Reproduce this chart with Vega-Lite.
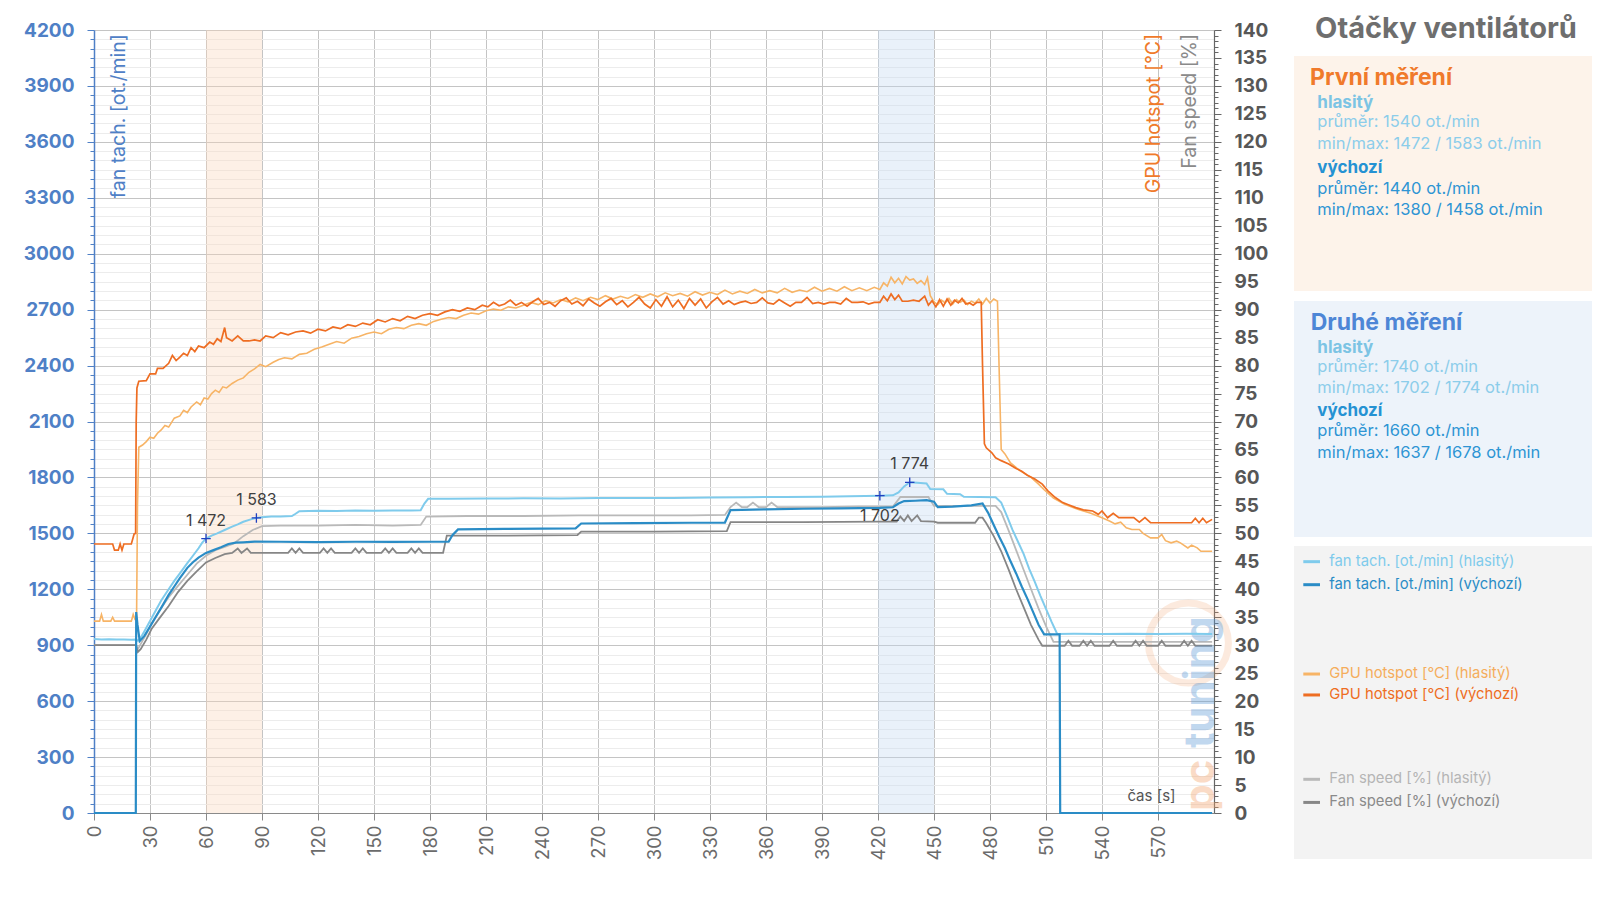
{
  "$schema": "https://vega.github.io/schema/vega-lite/v6.json",
  "background": "#ffffff",
  "padding": {"left": 23, "top": 14, "right": 0, "bottom": 0},
  "bounds": "flush",
  "spacing": 80,
  "config": {"view": {"stroke": null}, "font": "Inter"},
  "datasets": {
    "bands": [{"t": 60, "t2": 90, "band": "first"}, {"t": 420, "t2": 450, "band": "second"}],
    "peaks": [
      {"t": 60, "v": 1472, "label": "1 472", "pos": "above"},
      {"t": 87, "v": 1583, "label": "1 583", "pos": "above"},
      {"t": 437, "v": 1774, "label": "1 774", "pos": "above"},
      {"t": 421, "v": 1702, "label": "1 702", "pos": "below"}
    ],
    "th": [
      {"t":0,"v":933},{"t":4,"v":930},{"t":8,"v":932},{"t":12,"v":930},{"t":16,"v":931},{"t":20,"v":929},{"t":22.5,"v":930},{"t":23.5,"v":924},{"t":25,"v":940},{"t":27,"v":975},{"t":30,"v":1030},{"t":33,"v":1085},{"t":36,"v":1140},{"t":40,"v":1200},{"t":43,"v":1245},{"t":46,"v":1285},{"t":50,"v":1340},{"t":53,"v":1380},{"t":56,"v":1420},{"t":58,"v":1450},{"t":60,"v":1472},{"t":63,"v":1488},{"t":66,"v":1500},{"t":70,"v":1518},{"t":74,"v":1536},{"t":77,"v":1548},{"t":80,"v":1562},{"t":84,"v":1575},{"t":87,"v":1583},{"t":90,"v":1587},{"t":95,"v":1590},{"t":100,"v":1591},{"t":106,"v":1593},{"t":108,"v":1605},{"t":110,"v":1619},{"t":120,"v":1621},{"t":130,"v":1620},{"t":140,"v":1622},{"t":150,"v":1621},{"t":160,"v":1623},{"t":170,"v":1622},{"t":175,"v":1624},{"t":177,"v":1660},{"t":179,"v":1685},{"t":190,"v":1686},{"t":210,"v":1687},{"t":230,"v":1688},{"t":250,"v":1687},{"t":270,"v":1689},{"t":290,"v":1690},{"t":310,"v":1690},{"t":330,"v":1692},{"t":350,"v":1694},{"t":370,"v":1695},{"t":390,"v":1696},{"t":405,"v":1699},{"t":421,"v":1702},{"t":428,"v":1704},{"t":431,"v":1720},{"t":434,"v":1752},{"t":437,"v":1774},{"t":441,"v":1771},{"t":446,"v":1768},{"t":448,"v":1738},{"t":455,"v":1736},{"t":457,"v":1712},{"t":464,"v":1710},{"t":466,"v":1696},{"t":483,"v":1694},{"t":486,"v":1665},{"t":489,"v":1595},{"t":492,"v":1520},{"t":495,"v":1455},{"t":498,"v":1390},{"t":501,"v":1310},{"t":504,"v":1240},{"t":507,"v":1165},{"t":510,"v":1095},{"t":513,"v":1025},{"t":516,"v":960},{"t":525,"v":961},{"t":540,"v":960},{"t":555,"v":962},{"t":570,"v":960},{"t":585,"v":961},{"t":599,"v":960}
    ],
    "tv": [
      {"t":0,"v":0},{"t":22.4,"v":0},{"t":22.6,"v":1078},{"t":23.3,"v":1010},{"t":24.5,"v":922},{"t":27,"v":950},{"t":30,"v":1000},{"t":33,"v":1050},{"t":36,"v":1100},{"t":40,"v":1170},{"t":43,"v":1215},{"t":46,"v":1260},{"t":50,"v":1315},{"t":53,"v":1345},{"t":56,"v":1370},{"t":60,"v":1395},{"t":64,"v":1410},{"t":68,"v":1425},{"t":72,"v":1443},{"t":76,"v":1450},{"t":80,"v":1452},{"t":86,"v":1456},{"t":100,"v":1455},{"t":120,"v":1453},{"t":140,"v":1455},{"t":160,"v":1454},{"t":180,"v":1455},{"t":190,"v":1456},{"t":192,"v":1490},{"t":195,"v":1521},{"t":220,"v":1524},{"t":240,"v":1525},{"t":258,"v":1527},{"t":261,"v":1553},{"t":290,"v":1555},{"t":320,"v":1557},{"t":338,"v":1558},{"t":341,"v":1625},{"t":360,"v":1629},{"t":380,"v":1632},{"t":400,"v":1634},{"t":421,"v":1637},{"t":428,"v":1640},{"t":431,"v":1660},{"t":434,"v":1673},{"t":440,"v":1675},{"t":446,"v":1678},{"t":450,"v":1670},{"t":452,"v":1641},{"t":460,"v":1643},{"t":470,"v":1650},{"t":476,"v":1660},{"t":479,"v":1610},{"t":482,"v":1545},{"t":485,"v":1480},{"t":488,"v":1420},{"t":491,"v":1350},{"t":494,"v":1285},{"t":497,"v":1215},{"t":500,"v":1150},{"t":503,"v":1080},{"t":506,"v":1010},{"t":509,"v":958},{"t":517.3,"v":958},{"t":517.6,"v":0},{"t":599,"v":0}
    ],
    "fh": [
      {"t":0,"v":30},{"t":10,"v":30},{"t":22.5,"v":30},{"t":23.5,"v":29.3},{"t":25,"v":30.2},{"t":28,"v":32},{"t":31,"v":34},{"t":35,"v":36.2},{"t":40,"v":38.6},{"t":45,"v":40.6},{"t":50,"v":42.6},{"t":55,"v":44.6},{"t":60,"v":46},{"t":65,"v":47},{"t":70,"v":47.6},{"t":75,"v":48.2},{"t":80,"v":49.5},{"t":85,"v":50.6},{"t":90,"v":51.3},{"t":100,"v":51.4},{"t":120,"v":51.4},{"t":140,"v":51.5},{"t":160,"v":51.4},{"t":175,"v":51.5},{"t":178,"v":53},{"t":200,"v":53.1},{"t":230,"v":53.1},{"t":260,"v":53.2},{"t":290,"v":53.2},{"t":320,"v":53.2},{"t":338,"v":53.3},{"t":341,"v":54.7},{"t":344,"v":55.5},{"t":347,"v":54.7},{"t":350,"v":54.7},{"t":353,"v":55.5},{"t":356,"v":54.7},{"t":360,"v":54.7},{"t":363,"v":55.5},{"t":366,"v":54.7},{"t":390,"v":54.7},{"t":410,"v":54.8},{"t":428,"v":54.8},{"t":432,"v":56.5},{"t":447,"v":56.5},{"t":450,"v":54.9},{"t":483,"v":54.9},{"t":486,"v":53.8},{"t":490,"v":50.5},{"t":494,"v":47},{"t":498,"v":43.5},{"t":502,"v":40},{"t":506,"v":36.6},{"t":510,"v":33.4},{"t":514,"v":30.6},{"t":530,"v":30.6},{"t":545,"v":30.6},{"t":560,"v":30.6},{"t":575,"v":30.6},{"t":599,"v":30.6}
    ],
    "fv": [
      {"t":0,"v":30},{"t":10,"v":30},{"t":22.5,"v":30},{"t":23.5,"v":28.8},{"t":25,"v":29.3},{"t":28,"v":31},{"t":31,"v":33},{"t":35,"v":34.8},{"t":40,"v":37},{"t":45,"v":39.5},{"t":50,"v":41.5},{"t":55,"v":43.2},{"t":60,"v":44.8},{"t":65,"v":45.6},{"t":70,"v":46.3},{"t":74,"v":46.5},{"t":77,"v":47.3},{"t":79,"v":46.5},{"t":82,"v":47.3},{"t":84,"v":46.5},{"t":90,"v":46.5},{"t":104,"v":46.5},{"t":106,"v":47.3},{"t":108,"v":46.5},{"t":110,"v":47.3},{"t":112,"v":46.5},{"t":121,"v":46.5},{"t":123,"v":47.3},{"t":125,"v":46.5},{"t":127,"v":47.3},{"t":129,"v":46.5},{"t":138,"v":46.5},{"t":140,"v":47.3},{"t":142,"v":46.5},{"t":144,"v":47.3},{"t":146,"v":46.5},{"t":154,"v":46.5},{"t":156,"v":47.3},{"t":158,"v":46.5},{"t":160,"v":47.3},{"t":162,"v":46.5},{"t":168,"v":46.5},{"t":170,"v":47.3},{"t":172,"v":46.5},{"t":174,"v":47.3},{"t":176,"v":46.5},{"t":187,"v":46.5},{"t":189,"v":49.6},{"t":220,"v":49.6},{"t":259,"v":49.7},{"t":261,"v":50.3},{"t":300,"v":50.3},{"t":339,"v":50.4},{"t":341,"v":52},{"t":380,"v":52},{"t":420,"v":52.1},{"t":430,"v":52.1},{"t":432,"v":53},{"t":434,"v":52.2},{"t":436,"v":53.2},{"t":438,"v":52.2},{"t":441,"v":53.2},{"t":443,"v":52.2},{"t":450,"v":52.1},{"t":452,"v":51.9},{"t":472,"v":51.9},{"t":474,"v":52.8},{"t":476,"v":52.8},{"t":478,"v":51.8},{"t":482,"v":49.5},{"t":486,"v":46.8},{"t":490,"v":43.5},{"t":494,"v":40},{"t":498,"v":36.8},{"t":502,"v":33.6},{"t":506,"v":31},{"t":508,"v":29.9},{"t":520,"v":29.9},{"t":522,"v":30.8},{"t":524,"v":29.9},{"t":528,"v":29.9},{"t":530,"v":30.8},{"t":532,"v":29.9},{"t":534,"v":30.8},{"t":536,"v":29.9},{"t":544,"v":29.9},{"t":546,"v":30.8},{"t":548,"v":29.9},{"t":556,"v":29.9},{"t":558,"v":30.8},{"t":560,"v":29.9},{"t":562,"v":30.8},{"t":564,"v":29.9},{"t":570,"v":29.9},{"t":572,"v":30.8},{"t":574,"v":29.9},{"t":582,"v":29.9},{"t":584,"v":30.8},{"t":586,"v":29.9},{"t":588,"v":30.8},{"t":590,"v":29.9},{"t":599,"v":29.9}
    ],
    "gv": [
      {"t":0,"v":48.1},{"t":5,"v":48.1},{"t":10,"v":48.1},{"t":11,"v":47},{"t":13,"v":47},{"t":14,"v":48.1},{"t":15,"v":47},{"t":16,"v":48.1},{"t":20,"v":48.1},{"t":21.5,"v":49.9},{"t":22.3,"v":50},{"t":22.6,"v":70},{"t":23,"v":76},{"t":24,"v":77.2},{"t":28,"v":77.3},{"t":30,"v":78.5},{"t":33,"v":78.5},{"t":34,"v":79.5},{"t":37,"v":79.5},{"t":40,"v":80.4},{"t":42,"v":81.8},{"t":44,"v":80.9},{"t":46,"v":81.5},{"t":48,"v":82.2},{"t":50,"v":81.8},{"t":52,"v":83.2},{"t":54,"v":82.5},{"t":56,"v":83.5},{"t":59,"v":83.2},{"t":62,"v":84.2},{"t":64,"v":83.8},{"t":66,"v":84.8},{"t":68,"v":84.3},{"t":70,"v":86.8},{"t":71,"v":85},{"t":74,"v":84.4},{"t":77,"v":85.3},{"t":80,"v":84.4},{"t":83,"v":84.4},{"t":86,"v":84.6},{"t":89,"v":84.4},{"t":92,"v":85.3},{"t":96,"v":85.0},{"t":100,"v":85.9},{"t":104,"v":85.5},{"t":108,"v":86.0},{"t":112,"v":86.2},{"t":116,"v":85.8},{"t":120,"v":86.5},{"t":124,"v":86.2},{"t":128,"v":86.9},{"t":132,"v":86.6},{"t":136,"v":87.3},{"t":140,"v":87.0},{"t":144,"v":87.6},{"t":148,"v":87.3},{"t":152,"v":88.2},{"t":156,"v":87.8},{"t":160,"v":88.4},{"t":164,"v":88.0},{"t":168,"v":88.8},{"t":172,"v":88.4},{"t":176,"v":89.0},{"t":180,"v":89.3},{"t":184,"v":89.0},{"t":188,"v":89.6},{"t":192,"v":90.0},{"t":196,"v":89.7},{"t":200,"v":90.3},{"t":204,"v":90.0},{"t":208,"v":90.8},{"t":211,"v":90.5},{"t":214,"v":91.3},{"t":217,"v":90.7},{"t":220,"v":91.0},{"t":223,"v":91.7},{"t":226,"v":90.8},{"t":229,"v":91.3},{"t":232,"v":90.6},{"t":235,"v":91.4},{"t":238,"v":92.0},{"t":241,"v":90.9},{"t":244,"v":91.3},{"t":247,"v":90.6},{"t":250,"v":91.6},{"t":253,"v":92.1},{"t":256,"v":91.0},{"t":259,"v":91.5},{"t":262,"v":90.7},{"t":265,"v":91.9},{"t":268,"v":91.2},{"t":271,"v":90.6},{"t":274,"v":91.4},{"t":277,"v":92.0},{"t":280,"v":90.9},{"t":283,"v":91.6},{"t":286,"v":90.5},{"t":289,"v":91.3},{"t":292,"v":92.2},{"t":295,"v":91.0},{"t":298,"v":90.3},{"t":301,"v":91.8},{"t":304,"v":90.6},{"t":307,"v":92.3},{"t":310,"v":90.5},{"t":313,"v":91.7},{"t":316,"v":90.2},{"t":319,"v":92.0},{"t":322,"v":90.8},{"t":325,"v":91.9},{"t":328,"v":90.3},{"t":331,"v":91.4},{"t":334,"v":92.2},{"t":337,"v":91.0},{"t":340,"v":91.6},{"t":343,"v":90.9},{"t":346,"v":91.3},{"t":349,"v":91.5},{"t":352,"v":91.1},{"t":355,"v":91.3},{"t":358,"v":92.1},{"t":361,"v":91.2},{"t":364,"v":91.0},{"t":367,"v":91.8},{"t":370,"v":91.2},{"t":373,"v":90.6},{"t":376,"v":91.3},{"t":379,"v":91.3},{"t":382,"v":92.2},{"t":385,"v":91.1},{"t":388,"v":91.3},{"t":391,"v":91.0},{"t":394,"v":91.3},{"t":397,"v":91.3},{"t":400,"v":91.0},{"t":403,"v":92.0},{"t":406,"v":91.3},{"t":409,"v":91.3},{"t":412,"v":91.4},{"t":415,"v":91.0},{"t":418,"v":91.3},{"t":421,"v":91.3},{"t":423,"v":92.4},{"t":425,"v":91.6},{"t":427,"v":92.8},{"t":429,"v":91.8},{"t":431,"v":92.6},{"t":433,"v":91.5},{"t":436,"v":91.5},{"t":439,"v":91.7},{"t":442,"v":91.5},{"t":445,"v":92.4},{"t":447,"v":90.8},{"t":449,"v":91.6},{"t":451,"v":90.5},{"t":453,"v":91.8},{"t":455,"v":90.6},{"t":457,"v":91.9},{"t":459,"v":90.8},{"t":461,"v":91.7},{"t":463,"v":91.2},{"t":465,"v":92.0},{"t":467,"v":91.0},{"t":469,"v":91.2},{"t":471,"v":90.8},{"t":473,"v":91.3},{"t":475.3,"v":91.3},{"t":476,"v":80},{"t":477,"v":66},{"t":478,"v":65.3},{"t":481,"v":64.4},{"t":483,"v":63.5},{"t":486,"v":63.0},{"t":490,"v":62.4},{"t":494,"v":61.6},{"t":497,"v":61.1},{"t":500,"v":60.4},{"t":504,"v":59.7},{"t":508,"v":58.8},{"t":511,"v":57.6},{"t":515,"v":56.4},{"t":519,"v":55.5},{"t":522,"v":55.1},{"t":526,"v":54.6},{"t":530,"v":54.2},{"t":535,"v":54.0},{"t":538,"v":53.4},{"t":540,"v":54.0},{"t":543,"v":52.8},{"t":546,"v":53.6},{"t":549,"v":52.8},{"t":557,"v":52.8},{"t":560,"v":52.0},{"t":563,"v":52.8},{"t":566,"v":51.9},{"t":580,"v":51.9},{"t":588,"v":51.9},{"t":590,"v":52.7},{"t":592,"v":51.9},{"t":594,"v":52.7},{"t":596,"v":51.9},{"t":599,"v":52.5}
    ],
    "gh": [
      {"t":0,"v":34.3},{"t":3,"v":34.3},{"t":4,"v":35.5},{"t":5,"v":34.3},{"t":9,"v":34.3},{"t":10,"v":35.0},{"t":11,"v":34.3},{"t":20,"v":34.3},{"t":21,"v":35.5},{"t":22,"v":34.6},{"t":22.8,"v":34.6},{"t":23.3,"v":55},{"t":24,"v":65.4},{"t":26,"v":65.8},{"t":28,"v":66.4},{"t":30,"v":67.2},{"t":32,"v":67.0},{"t":34,"v":67.9},{"t":36,"v":68.5},{"t":38,"v":69.3},{"t":40,"v":69.0},{"t":43,"v":70.6},{"t":46,"v":71.0},{"t":48,"v":72.0},{"t":50,"v":71.6},{"t":52,"v":72.6},{"t":55,"v":73.5},{"t":57,"v":73.0},{"t":59,"v":74.2},{"t":61,"v":74.0},{"t":63,"v":75.0},{"t":65,"v":75.6},{"t":67,"v":75.2},{"t":69,"v":76.2},{"t":71,"v":76.0},{"t":74,"v":76.8},{"t":77,"v":77.4},{"t":80,"v":77.8},{"t":83,"v":78.8},{"t":86,"v":79.4},{"t":89,"v":80.2},{"t":92,"v":79.8},{"t":96,"v":80.6},{"t":99,"v":81.1},{"t":102,"v":81.4},{"t":106,"v":81.2},{"t":110,"v":82.0},{"t":114,"v":82.2},{"t":118,"v":82.9},{"t":122,"v":83.3},{"t":126,"v":83.8},{"t":130,"v":84.3},{"t":134,"v":84.0},{"t":138,"v":84.9},{"t":142,"v":85.2},{"t":146,"v":85.7},{"t":150,"v":86.0},{"t":154,"v":85.7},{"t":158,"v":86.5},{"t":162,"v":86.8},{"t":166,"v":86.6},{"t":170,"v":87.2},{"t":174,"v":87.5},{"t":178,"v":87.2},{"t":182,"v":87.9},{"t":186,"v":88.3},{"t":190,"v":88.6},{"t":194,"v":88.4},{"t":198,"v":89.0},{"t":202,"v":89.4},{"t":206,"v":89.2},{"t":210,"v":89.8},{"t":214,"v":90.1},{"t":218,"v":89.9},{"t":222,"v":90.5},{"t":226,"v":90.3},{"t":230,"v":90.8},{"t":234,"v":91.3},{"t":238,"v":90.9},{"t":242,"v":91.6},{"t":246,"v":91.2},{"t":250,"v":91.8},{"t":254,"v":91.4},{"t":258,"v":92.1},{"t":262,"v":91.6},{"t":266,"v":92.2},{"t":270,"v":91.8},{"t":274,"v":92.5},{"t":278,"v":91.9},{"t":282,"v":92.4},{"t":286,"v":92.0},{"t":290,"v":92.7},{"t":294,"v":92.2},{"t":298,"v":92.8},{"t":302,"v":92.3},{"t":306,"v":93.0},{"t":310,"v":92.5},{"t":314,"v":92.9},{"t":318,"v":92.4},{"t":322,"v":93.2},{"t":326,"v":92.6},{"t":330,"v":93.1},{"t":334,"v":92.7},{"t":338,"v":93.5},{"t":342,"v":92.8},{"t":346,"v":93.3},{"t":350,"v":92.9},{"t":354,"v":93.6},{"t":358,"v":93.0},{"t":362,"v":93.4},{"t":366,"v":93.0},{"t":370,"v":93.8},{"t":374,"v":93.1},{"t":378,"v":93.5},{"t":382,"v":93.2},{"t":386,"v":94.0},{"t":390,"v":93.3},{"t":394,"v":93.8},{"t":398,"v":93.3},{"t":402,"v":94.1},{"t":406,"v":93.4},{"t":410,"v":93.9},{"t":414,"v":93.4},{"t":418,"v":94.0},{"t":421,"v":93.6},{"t":423,"v":94.8},{"t":425,"v":94.2},{"t":427,"v":95.8},{"t":429,"v":94.8},{"t":431,"v":95.6},{"t":433,"v":94.6},{"t":435,"v":95.9},{"t":437,"v":95.3},{"t":439,"v":95.5},{"t":441,"v":94.7},{"t":443,"v":95.2},{"t":445,"v":94.5},{"t":446.5,"v":95.7},{"t":448,"v":92.5},{"t":450,"v":91.4},{"t":452,"v":90.9},{"t":454,"v":91.7},{"t":456,"v":91.2},{"t":458,"v":92.0},{"t":460,"v":91.0},{"t":462,"v":91.8},{"t":464,"v":91.3},{"t":466,"v":91.7},{"t":468,"v":90.9},{"t":470,"v":91.5},{"t":472,"v":91.2},{"t":474,"v":91.9},{"t":476,"v":91.0},{"t":478,"v":92.0},{"t":480,"v":91.2},{"t":482,"v":91.9},{"t":484,"v":91.5},{"t":485,"v":78},{"t":486,"v":65},{"t":488,"v":64.2},{"t":491,"v":62.6},{"t":496,"v":61.2},{"t":502,"v":60.0},{"t":506,"v":58.8},{"t":509,"v":57.8},{"t":514,"v":56.3},{"t":520,"v":55.2},{"t":527,"v":54.3},{"t":534,"v":53.6},{"t":540,"v":52.8},{"t":544,"v":52.2},{"t":547,"v":51.7},{"t":550,"v":52.0},{"t":553,"v":51.0},{"t":556,"v":50.7},{"t":560,"v":50.7},{"t":562,"v":50.0},{"t":566,"v":49.2},{"t":570,"v":49.2},{"t":572,"v":49.8},{"t":574,"v":48.7},{"t":577,"v":48.3},{"t":580,"v":48.6},{"t":582,"v":48.3},{"t":586,"v":47.4},{"t":588,"v":47.9},{"t":591,"v":47.4},{"t":593,"v":46.8},{"t":599,"v":46.8}
    ]
  },
  "hconcat": [
    {
      "width": 1120,
      "height": 783,
      "layer": [
        {
          "data": {"name": "bands"},
          "mark": {"type": "rect", "opacity": 0.36},
          "encoding": {
            "x": {
              "field": "t", "type": "quantitative",
              "scale": {"domain": [0, 600], "nice": false, "zero": false},
              "axis": {
                "values": [0,15,30,45,60,75,90,105,120,135,150,165,180,195,210,225,240,255,270,285,300,315,330,345,360,375,390,405,420,435,450,465,480,495,510,525,540,555,570,585],
                "format": "d",
                "labelExpr": "datum.value % 30 === 0 ? datum.label : ''",
                "labelAngle": 270, "labelFont": "Inter", "labelFontSize": 18.5, "labelColor": "#6b6b6b",
                "labelPadding": 5, "labelOverlap": false, "labelBound": false, "labelFlush": false,
                "tickSize": {"condition": {"test": "datum.value % 30 === 0", "value": 7}, "value": 4},
                "tickColor": "#8a8a8a", "domainColor": "#8a8a8a", "domainWidth": 1.2,
                "grid": true, "gridColor": "#c4c4c4",
                "gridOpacity": {"condition": {"test": "datum.value % 30 === 0", "value": 1}, "value": 0},
                "title": null
              }
            },
            "x2": {"field": "t2"},
            "color": {"field": "band", "type": "nominal", "scale": {"domain": ["first", "second"], "range": ["#f9d6bb", "#c2d9f1"]}, "legend": null}
          }
        },
        {
          "layer": [
            {
              "data": {"values": [{}]},
              "mark": {"type": "point", "shape": "circle", "filled": false, "size": 6400, "stroke": "#f4a36b", "strokeWidth": 7, "opacity": 0.22},
              "encoding": {"x": {"datum": 586.3, "type": "quantitative"}, "y": {"datum": 30.4, "type": "quantitative"}}
            },
            {
              "data": {"name": "fh"},
              "mark": {"type": "line", "color": "#b9b9b9", "strokeWidth": 1.8},
              "encoding": {
                "x": {"field": "t", "type": "quantitative"},
                "y": {
                  "field": "v", "type": "quantitative",
                  "scale": {"domain": [0, 140], "nice": false, "zero": false},
                  "axis": {
                    "orient": "right", "tickCount": 140, "format": "d",
                    "labelExpr": "datum.value % 5 === 0 ? datum.label : ''",
                    "labelFont": "Inter", "labelFontSize": 19, "labelFontWeight": "bold", "labelColor": "#575757",
                    "labelPadding": 13, "labelOverlap": false, "labelBound": false, "labelFlush": false,
                    "tickSize": {"condition": {"test": "datum.value % 5 === 0", "value": 7}, "value": 4},
                    "tickColor": "#666666", "domainColor": "#666666", "domainWidth": 1.2,
                    "grid": false, "title": null
                  }
                }
              }
            },
            {"data": {"name": "fv"}, "mark": {"type": "line", "color": "#868686", "strokeWidth": 1.8}, "encoding": {"x": {"field": "t", "type": "quantitative"}, "y": {"field": "v", "type": "quantitative"}}},
            {"data": {"name": "gh"}, "mark": {"type": "line", "color": "#f7b466", "strokeWidth": 1.6}, "encoding": {"x": {"field": "t", "type": "quantitative"}, "y": {"field": "v", "type": "quantitative"}}},
            {"data": {"name": "gv"}, "mark": {"type": "line", "color": "#ee6d22", "strokeWidth": 1.7}, "encoding": {"x": {"field": "t", "type": "quantitative"}, "y": {"field": "v", "type": "quantitative"}}},
            {
              "data": {"values": [{}]},
              "mark": {"type": "text", "angle": 270, "align": "right", "baseline": "middle", "font": "Inter", "fontSize": 19.5, "color": "#f07a2a"},
              "encoding": {"x": {"datum": 568.1, "type": "quantitative"}, "y": {"datum": 139.3, "type": "quantitative"}, "text": {"value": "GPU hotspot [°C]"}}
            },
            {
              "data": {"values": [{}]},
              "mark": {"type": "text", "angle": 270, "align": "right", "baseline": "middle", "font": "Inter", "fontSize": 19.5, "color": "#8a8a8a"},
              "encoding": {"x": {"datum": 587.0, "type": "quantitative"}, "y": {"datum": 139.3, "type": "quantitative"}, "text": {"value": "Fan speed [%]"}}
            },
            {
              "data": {"values": [{}]},
              "mark": {"type": "text", "align": "center", "baseline": "middle", "font": "Inter", "fontSize": 15, "color": "#555555"},
              "encoding": {"x": {"datum": 566.5, "type": "quantitative"}, "y": {"datum": 3.0, "type": "quantitative"}, "text": {"value": "čas [s]"}}
            },
            {
              "data": {"values": [{}]},
              "mark": {"type": "text", "angle": 270, "align": "left", "baseline": "middle", "font": "Inter", "fontSize": 42, "fontWeight": "bold", "color": "#f4a36b", "opacity": 0.38},
              "encoding": {"x": {"datum": 593.2, "type": "quantitative"}, "y": {"datum": 0.4, "type": "quantitative"}, "text": {"value": "pc"}}
            },
            {
              "data": {"values": [{}]},
              "mark": {"type": "text", "angle": 270, "align": "left", "baseline": "middle", "font": "Inter", "fontSize": 42, "fontWeight": "bold", "color": "#5f9bd6", "opacity": 0.38},
              "encoding": {"x": {"datum": 593.2, "type": "quantitative"}, "y": {"datum": 11.6, "type": "quantitative"}, "text": {"value": "tuning"}}
            }
          ]
        },
        {
          "layer": [
            {
              "data": {"name": "th"},
              "mark": {"type": "line", "color": "#7fcbec", "strokeWidth": 2},
              "encoding": {
                "x": {"field": "t", "type": "quantitative"},
                "y": {
                  "field": "v", "type": "quantitative",
                  "scale": {"domain": [0, 4200], "nice": false, "zero": false},
                  "axis": {
                    "orient": "left", "tickCount": 84, "format": "d",
                    "labelExpr": "datum.value % 300 === 0 ? datum.label : ''",
                    "labelFont": "Inter", "labelFontSize": 19, "labelFontWeight": "bold", "labelColor": "#4f80c6",
                    "labelPadding": 13, "labelOverlap": false, "labelBound": false, "labelFlush": false,
                    "tickSize": {"condition": {"test": "datum.value % 300 === 0", "value": 7}, "value": 4},
                    "tickColor": "#4f80c6", "domainColor": "#4f80c6", "domainWidth": 1.5,
                    "grid": true,
                    "gridColor": {"condition": {"test": "datum.value % 300 === 0", "value": "#c4c4c4"}, "value": "#ececec"},
                    "title": null
                  }
                }
              }
            },
            {"data": {"name": "tv"}, "mark": {"type": "line", "color": "#2a8cc6", "strokeWidth": 2.2}, "encoding": {"x": {"field": "t", "type": "quantitative"}, "y": {"field": "v", "type": "quantitative"}}},
            {
              "data": {"name": "peaks"},
              "mark": {"type": "point", "shape": "M-1,0L1,0M0,-1L0,1", "size": 90, "filled": false, "stroke": "#2040c0", "strokeWidth": 1.3, "opacity": 1},
              "encoding": {"x": {"field": "t", "type": "quantitative"}, "y": {"field": "v", "type": "quantitative"}}
            },
            {
              "data": {"name": "peaks"},
              "transform": [{"filter": "datum.pos === 'above'"}],
              "mark": {"type": "text", "dy": -18, "font": "Inter", "fontSize": 16, "color": "#404040"},
              "encoding": {"x": {"field": "t", "type": "quantitative"}, "y": {"field": "v", "type": "quantitative"}, "text": {"field": "label"}}
            },
            {
              "data": {"name": "peaks"},
              "transform": [{"filter": "datum.pos === 'below'"}],
              "mark": {"type": "text", "dy": 20, "font": "Inter", "fontSize": 16, "color": "#404040"},
              "encoding": {"x": {"field": "t", "type": "quantitative"}, "y": {"field": "v", "type": "quantitative"}, "text": {"field": "label"}}
            },
            {
              "data": {"values": [{}]},
              "mark": {"type": "text", "angle": 270, "align": "right", "baseline": "middle", "font": "Inter", "fontSize": 19.5, "color": "#4f80c6"},
              "encoding": {"x": {"datum": 13.2, "type": "quantitative"}, "y": {"datum": 4178, "type": "quantitative"}, "text": {"value": "fan tach. [ot./min]"}}
            }
          ]
        }
      ],
      "resolve": {"scale": {"y": "independent"}, "axis": {"y": "independent"}}
    },
    {
      "width": 298,
      "height": 831,
      "data": {"values": [{}]},
      "layer": [
        {"mark": {"type": "rect", "color": "#fdf3ea"}, "encoding": {"x": {"datum": 0, "type": "quantitative", "scale": {"domain": [0, 100], "nice": false}, "axis": null}, "x2": {"datum": 100}, "y": {"datum": 3.13, "type": "quantitative", "scale": {"domain": [0, 100], "nice": false, "reverse": true}, "axis": null}, "y2": {"datum": 31.41}}},
        {"mark": {"type": "rect", "color": "#edf3fa"}, "encoding": {"x": {"datum": 0, "type": "quantitative", "scale": {"domain": [0, 100], "nice": false}, "axis": null}, "x2": {"datum": 100}, "y": {"datum": 32.61, "type": "quantitative", "scale": {"domain": [0, 100], "nice": false, "reverse": true}, "axis": null}, "y2": {"datum": 61.01}}},
        {"mark": {"type": "rect", "color": "#f3f3f3"}, "encoding": {"x": {"datum": 0, "type": "quantitative", "scale": {"domain": [0, 100], "nice": false}, "axis": null}, "x2": {"datum": 100}, "y": {"datum": 62.09, "type": "quantitative", "scale": {"domain": [0, 100], "nice": false, "reverse": true}, "axis": null}, "y2": {"datum": 99.76}}},
        {"mark": {"type": "text", "align": "center", "baseline": "middle", "font": "Inter", "fontSize": 29, "fontWeight": "bold", "color": "#6e6e6e"}, "encoding": {"x": {"datum": 51.0, "type": "quantitative", "scale": {"domain": [0, 100], "nice": false}, "axis": null}, "y": {"datum": -0.18, "type": "quantitative", "scale": {"domain": [0, 100], "nice": false, "reverse": true}, "axis": null}, "text": {"value": "Otáčky ventilátorů"}}},
        {"mark": {"type": "text", "align": "left", "baseline": "middle", "font": "Inter", "fontSize": 23, "fontWeight": "bold", "color": "#f07a2b"}, "encoding": {"x": {"datum": 5.37, "type": "quantitative", "scale": {"domain": [0, 100], "nice": false}, "axis": null}, "y": {"datum": 5.74, "type": "quantitative", "scale": {"domain": [0, 100], "nice": false, "reverse": true}, "axis": null}, "text": {"value": "První měření"}}},
        {"mark": {"type": "text", "align": "left", "baseline": "middle", "font": "Inter", "fontSize": 17, "fontWeight": "bold", "color": "#7cc4e4"}, "encoding": {"x": {"datum": 7.82, "type": "quantitative", "scale": {"domain": [0, 100], "nice": false}, "axis": null}, "y": {"datum": 8.74, "type": "quantitative", "scale": {"domain": [0, 100], "nice": false, "reverse": true}, "axis": null}, "text": {"value": "hlasitý"}}},
        {"mark": {"type": "text", "align": "left", "baseline": "middle", "font": "Inter", "fontSize": 16.5, "color": "#8ccdea"}, "encoding": {"x": {"datum": 7.82, "type": "quantitative", "scale": {"domain": [0, 100], "nice": false}, "axis": null}, "y": {"datum": 11.12, "type": "quantitative", "scale": {"domain": [0, 100], "nice": false, "reverse": true}, "axis": null}, "text": {"value": "průměr: 1540 ot./min"}}},
        {"mark": {"type": "text", "align": "left", "baseline": "middle", "font": "Inter", "fontSize": 16.5, "color": "#8ccdea"}, "encoding": {"x": {"datum": 7.82, "type": "quantitative", "scale": {"domain": [0, 100], "nice": false}, "axis": null}, "y": {"datum": 13.68, "type": "quantitative", "scale": {"domain": [0, 100], "nice": false, "reverse": true}, "axis": null}, "text": {"value": "min/max: 1472 / 1583 ot./min"}}},
        {"mark": {"type": "text", "align": "left", "baseline": "middle", "font": "Inter", "fontSize": 17, "fontWeight": "bold", "color": "#2592d3"}, "encoding": {"x": {"datum": 7.82, "type": "quantitative", "scale": {"domain": [0, 100], "nice": false}, "axis": null}, "y": {"datum": 16.57, "type": "quantitative", "scale": {"domain": [0, 100], "nice": false, "reverse": true}, "axis": null}, "text": {"value": "výchozí"}}},
        {"mark": {"type": "text", "align": "left", "baseline": "middle", "font": "Inter", "fontSize": 16.5, "color": "#2e95d4"}, "encoding": {"x": {"datum": 7.82, "type": "quantitative", "scale": {"domain": [0, 100], "nice": false}, "axis": null}, "y": {"datum": 19.15, "type": "quantitative", "scale": {"domain": [0, 100], "nice": false, "reverse": true}, "axis": null}, "text": {"value": "průměr: 1440 ot./min"}}},
        {"mark": {"type": "text", "align": "left", "baseline": "middle", "font": "Inter", "fontSize": 16.5, "color": "#2e95d4"}, "encoding": {"x": {"datum": 7.82, "type": "quantitative", "scale": {"domain": [0, 100], "nice": false}, "axis": null}, "y": {"datum": 21.68, "type": "quantitative", "scale": {"domain": [0, 100], "nice": false, "reverse": true}, "axis": null}, "text": {"value": "min/max: 1380 / 1458 ot./min"}}},
        {"mark": {"type": "text", "align": "left", "baseline": "middle", "font": "Inter", "fontSize": 23, "fontWeight": "bold", "color": "#4d86d6"}, "encoding": {"x": {"datum": 5.6, "type": "quantitative", "scale": {"domain": [0, 100], "nice": false}, "axis": null}, "y": {"datum": 35.2, "type": "quantitative", "scale": {"domain": [0, 100], "nice": false, "reverse": true}, "axis": null}, "text": {"value": "Druhé měření"}}},
        {"mark": {"type": "text", "align": "left", "baseline": "middle", "font": "Inter", "fontSize": 17, "fontWeight": "bold", "color": "#7cc4e4"}, "encoding": {"x": {"datum": 7.82, "type": "quantitative", "scale": {"domain": [0, 100], "nice": false}, "axis": null}, "y": {"datum": 38.27, "type": "quantitative", "scale": {"domain": [0, 100], "nice": false, "reverse": true}, "axis": null}, "text": {"value": "hlasitý"}}},
        {"mark": {"type": "text", "align": "left", "baseline": "middle", "font": "Inter", "fontSize": 16.5, "color": "#8ccdea"}, "encoding": {"x": {"datum": 7.82, "type": "quantitative", "scale": {"domain": [0, 100], "nice": false}, "axis": null}, "y": {"datum": 40.56, "type": "quantitative", "scale": {"domain": [0, 100], "nice": false, "reverse": true}, "axis": null}, "text": {"value": "průměr: 1740 ot./min"}}},
        {"mark": {"type": "text", "align": "left", "baseline": "middle", "font": "Inter", "fontSize": 16.5, "color": "#8ccdea"}, "encoding": {"x": {"datum": 7.82, "type": "quantitative", "scale": {"domain": [0, 100], "nice": false}, "axis": null}, "y": {"datum": 43.1, "type": "quantitative", "scale": {"domain": [0, 100], "nice": false, "reverse": true}, "axis": null}, "text": {"value": "min/max: 1702 / 1774 ot./min"}}},
        {"mark": {"type": "text", "align": "left", "baseline": "middle", "font": "Inter", "fontSize": 17, "fontWeight": "bold", "color": "#2592d3"}, "encoding": {"x": {"datum": 7.82, "type": "quantitative", "scale": {"domain": [0, 100], "nice": false}, "axis": null}, "y": {"datum": 45.85, "type": "quantitative", "scale": {"domain": [0, 100], "nice": false, "reverse": true}, "axis": null}, "text": {"value": "výchozí"}}},
        {"mark": {"type": "text", "align": "left", "baseline": "middle", "font": "Inter", "fontSize": 16.5, "color": "#2e95d4"}, "encoding": {"x": {"datum": 7.82, "type": "quantitative", "scale": {"domain": [0, 100], "nice": false}, "axis": null}, "y": {"datum": 48.3, "type": "quantitative", "scale": {"domain": [0, 100], "nice": false, "reverse": true}, "axis": null}, "text": {"value": "průměr: 1660 ot./min"}}},
        {"mark": {"type": "text", "align": "left", "baseline": "middle", "font": "Inter", "fontSize": 16.5, "color": "#2e95d4"}, "encoding": {"x": {"datum": 7.82, "type": "quantitative", "scale": {"domain": [0, 100], "nice": false}, "axis": null}, "y": {"datum": 50.92, "type": "quantitative", "scale": {"domain": [0, 100], "nice": false, "reverse": true}, "axis": null}, "text": {"value": "min/max: 1637 / 1678 ot./min"}}},
        {"mark": {"type": "rule", "color": "#7fcbec", "strokeWidth": 3}, "encoding": {"x": {"datum": 3.12, "type": "quantitative", "scale": {"domain": [0, 100], "nice": false}, "axis": null}, "x2": {"datum": 8.72}, "y": {"datum": 63.98, "type": "quantitative", "scale": {"domain": [0, 100], "nice": false, "reverse": true}, "axis": null}}},
        {"mark": {"type": "rule", "color": "#2a8cc6", "strokeWidth": 3}, "encoding": {"x": {"datum": 3.12, "type": "quantitative", "scale": {"domain": [0, 100], "nice": false}, "axis": null}, "x2": {"datum": 8.72}, "y": {"datum": 66.75, "type": "quantitative", "scale": {"domain": [0, 100], "nice": false, "reverse": true}, "axis": null}}},
        {"mark": {"type": "rule", "color": "#f7b466", "strokeWidth": 3}, "encoding": {"x": {"datum": 3.12, "type": "quantitative", "scale": {"domain": [0, 100], "nice": false}, "axis": null}, "x2": {"datum": 8.72}, "y": {"datum": 77.5, "type": "quantitative", "scale": {"domain": [0, 100], "nice": false, "reverse": true}, "axis": null}}},
        {"mark": {"type": "rule", "color": "#ee6d22", "strokeWidth": 3}, "encoding": {"x": {"datum": 3.12, "type": "quantitative", "scale": {"domain": [0, 100], "nice": false}, "axis": null}, "x2": {"datum": 8.72}, "y": {"datum": 80.02, "type": "quantitative", "scale": {"domain": [0, 100], "nice": false, "reverse": true}, "axis": null}}},
        {"mark": {"type": "rule", "color": "#b9b9b9", "strokeWidth": 3}, "encoding": {"x": {"datum": 3.12, "type": "quantitative", "scale": {"domain": [0, 100], "nice": false}, "axis": null}, "x2": {"datum": 8.72}, "y": {"datum": 90.17, "type": "quantitative", "scale": {"domain": [0, 100], "nice": false, "reverse": true}, "axis": null}}},
        {"mark": {"type": "rule", "color": "#868686", "strokeWidth": 3}, "encoding": {"x": {"datum": 3.12, "type": "quantitative", "scale": {"domain": [0, 100], "nice": false}, "axis": null}, "x2": {"datum": 8.72}, "y": {"datum": 92.95, "type": "quantitative", "scale": {"domain": [0, 100], "nice": false, "reverse": true}, "axis": null}}},
        {"mark": {"type": "text", "align": "left", "baseline": "middle", "font": "Inter", "fontSize": 14.8, "color": "#7fcbec"}, "encoding": {"x": {"datum": 11.85, "type": "quantitative", "scale": {"domain": [0, 100], "nice": false}, "axis": null}, "y": {"datum": 63.98, "type": "quantitative", "scale": {"domain": [0, 100], "nice": false, "reverse": true}, "axis": null}, "text": {"value": "fan tach. [ot./min] (hlasitý)"}}},
        {"mark": {"type": "text", "align": "left", "baseline": "middle", "font": "Inter", "fontSize": 14.8, "color": "#2a8cc6"}, "encoding": {"x": {"datum": 11.85, "type": "quantitative", "scale": {"domain": [0, 100], "nice": false}, "axis": null}, "y": {"datum": 66.75, "type": "quantitative", "scale": {"domain": [0, 100], "nice": false, "reverse": true}, "axis": null}, "text": {"value": "fan tach. [ot./min] (výchozí)"}}},
        {"mark": {"type": "text", "align": "left", "baseline": "middle", "font": "Inter", "fontSize": 14.8, "color": "#f5ad5c"}, "encoding": {"x": {"datum": 11.85, "type": "quantitative", "scale": {"domain": [0, 100], "nice": false}, "axis": null}, "y": {"datum": 77.5, "type": "quantitative", "scale": {"domain": [0, 100], "nice": false, "reverse": true}, "axis": null}, "text": {"value": "GPU hotspot [°C] (hlasitý)"}}},
        {"mark": {"type": "text", "align": "left", "baseline": "middle", "font": "Inter", "fontSize": 14.8, "color": "#ee6d22"}, "encoding": {"x": {"datum": 11.85, "type": "quantitative", "scale": {"domain": [0, 100], "nice": false}, "axis": null}, "y": {"datum": 80.02, "type": "quantitative", "scale": {"domain": [0, 100], "nice": false, "reverse": true}, "axis": null}, "text": {"value": "GPU hotspot [°C] (výchozí)"}}},
        {"mark": {"type": "text", "align": "left", "baseline": "middle", "font": "Inter", "fontSize": 14.8, "color": "#b5b5b5"}, "encoding": {"x": {"datum": 11.85, "type": "quantitative", "scale": {"domain": [0, 100], "nice": false}, "axis": null}, "y": {"datum": 90.17, "type": "quantitative", "scale": {"domain": [0, 100], "nice": false, "reverse": true}, "axis": null}, "text": {"value": "Fan speed [%] (hlasitý)"}}},
        {"mark": {"type": "text", "align": "left", "baseline": "middle", "font": "Inter", "fontSize": 14.8, "color": "#8a8a8a"}, "encoding": {"x": {"datum": 11.85, "type": "quantitative", "scale": {"domain": [0, 100], "nice": false}, "axis": null}, "y": {"datum": 92.95, "type": "quantitative", "scale": {"domain": [0, 100], "nice": false, "reverse": true}, "axis": null}, "text": {"value": "Fan speed [%] (výchozí)"}}}
      ]
    }
  ]
}
